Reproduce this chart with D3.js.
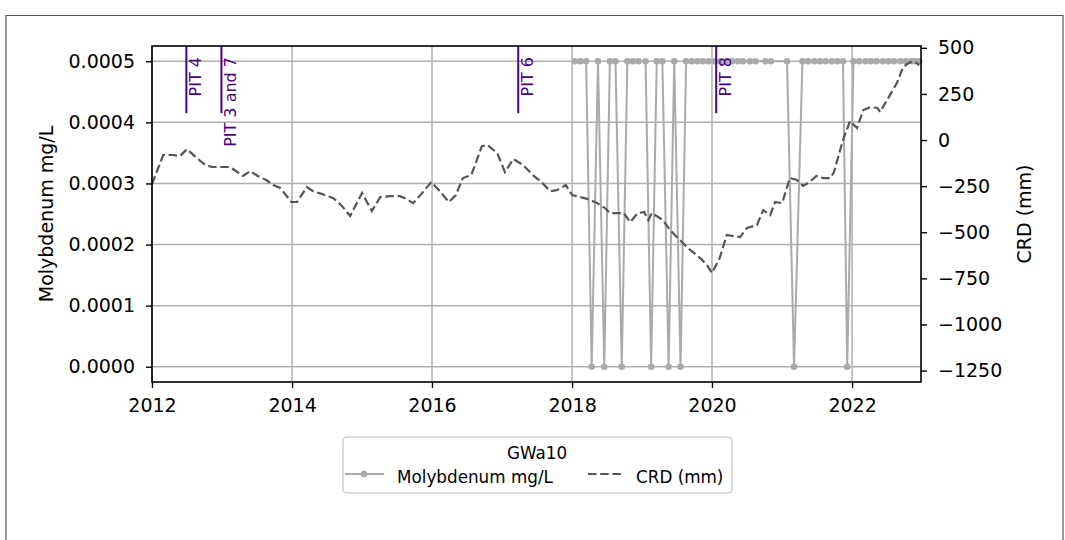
<!DOCTYPE html>
<html>
<head>
<meta charset="utf-8">
<script src="https://cdn.jsdelivr.net/npm/d3@7"></script>
<style>
  body { margin: 0; background: #fff; }
  text { font-family: "DejaVu Sans", sans-serif; }
</style>
</head>
<body>
<div id="chart"></div>
<script>
// Molybdenum samples (decimal year, mg/L)
var moYears = [2018.04, 2018.12, 2018.20, 2018.28, 2018.37, 2018.46, 2018.54, 2018.62, 2018.71, 2018.79,
  2018.87, 2018.95, 2019.05, 2019.13, 2019.21, 2019.29, 2019.38, 2019.46, 2019.55, 2019.63,
  2019.71, 2019.79, 2019.87, 2019.95, 2020.04, 2020.12, 2020.20, 2020.29, 2020.37, 2020.44,
  2020.54, 2020.62, 2020.76, 2020.84, 2021.07, 2021.17, 2021.29, 2021.37, 2021.46, 2021.54,
  2021.62, 2021.71, 2021.79, 2021.87, 2021.93, 2022.02, 2022.10, 2022.19, 2022.27, 2022.35,
  2022.44, 2022.52, 2022.60, 2022.69, 2022.77, 2022.85, 2022.90, 2022.96]
var moValues = [0.0005, 0.0005, 0.0005, 0, 0.0005, 0, 0.0005, 0.0005, 0, 0.0005,
  0.0005, 0.0005, 0.0005, 0, 0.0005, 0.0005, 0, 0.0005, 0, 0.0005,
  0.0005, 0.0005, 0.0005, 0.0005, 0.0005, 0.0005, 0.0005, 0.0005, 0.0005, 0.0005,
  0.0005, 0.0005, 0.0005, 0.0005, 0.0005, 0, 0.0005, 0.0005, 0.0005, 0.0005,
  0.0005, 0.0005, 0.0005, 0.0005, 0, 0.0005, 0.0005, 0.0005, 0.0005, 0.0005,
  0.0005, 0.0005, 0.0005, 0.0005, 0.0005, 0.0005, 0.0005, 0.0005]

// CRD (mm), decimal year
var crdYears = [2012.00, 2012.16, 2012.30, 2012.40, 2012.50, 2012.64, 2012.76, 2012.86, 2013.00, 2013.11,
  2013.30, 2013.40, 2013.51, 2013.63, 2013.73, 2013.83, 2013.99, 2014.07, 2014.21, 2014.30,
  2014.43, 2014.59, 2014.70, 2014.83, 2015.00, 2015.14, 2015.26, 2015.40, 2015.54, 2015.64,
  2015.73, 2015.86, 2015.99, 2016.11, 2016.24, 2016.34, 2016.44, 2016.56, 2016.64, 2016.71,
  2016.79, 2016.93, 2017.04, 2017.16, 2017.30, 2017.44, 2017.56, 2017.69, 2017.79, 2017.91,
  2018.00, 2018.11, 2018.23, 2018.36, 2018.47, 2018.54, 2018.66, 2018.74, 2018.83, 2018.94,
  2019.03, 2019.09, 2019.14, 2019.30, 2019.40, 2019.54, 2019.64, 2019.83, 2019.93, 2020.00,
  2020.11, 2020.21, 2020.40, 2020.50, 2020.64, 2020.73, 2020.83, 2020.90, 2021.00, 2021.11,
  2021.21, 2021.30, 2021.39, 2021.49, 2021.59, 2021.69, 2021.74, 2021.87, 2021.97, 2022.07,
  2022.16, 2022.26, 2022.36, 2022.40, 2022.50, 2022.64, 2022.73, 2022.83, 2022.90, 2022.96]
var crdValues = [-239, -81, -81, -87, -49, -98, -136, -146, -146, -146,
  -195, -168, -195, -217, -244, -260, -336, -336, -255, -277,
  -293, -315, -352, -412, -287, -385, -309, -304, -304, -320,
  -342, -287, -228, -277, -336, -298, -206, -190, -108, -33,
  -27, -70, -174, -103, -136, -190, -228, -277, -271, -244,
  -298, -309, -320, -342, -369, -396, -396, -396, -445, -396,
  -390, -434, -396, -434, -488, -542, -580, -640, -678, -721,
  -640, -515, -526, -477, -461, -380, -407, -336, -342, -206,
  -217, -249, -228, -195, -206, -206, -174, 0, 103, 65,
  163, 179, 174, 152, 217, 309, 396, 423, 423, 407]

// pit events
var pitNames = ['PIT 4', 'PIT 3 and 7', 'PIT 6', 'PIT 8']
var pitYears = [2012.49, 2012.99, 2017.23, 2020.06]

var xTicks = [2012, 2014, 2016, 2018, 2020, 2022]
var leftTicks = [0, 0.0001, 0.0002, 0.0003, 0.0004, 0.0005]
var rightTicks = [-1250, -1000, -750, -500, -250, 0, 250, 500]

function toDate(yr) {
  var y = Math.floor(yr)
  var start = Date.UTC(y, 0, 1)
  var end = Date.UTC(y + 1, 0, 1)
  return new Date(start + (yr - y) * (end - start))
}

var width = 1065
var height = 540
var margin = { top: 46, left: 152, right: 144, bottom: 158 }
var w = width - margin.left - margin.right
var h = height - margin.top - margin.bottom

var root = d3.select('#chart').append('svg')
  .attr('width', width)
  .attr('height', height)

// outer frame
root.append('path')
  .attr('d', 'M6,545 L6,15.5 L1063,15.5 L1063,545')
  .attr('fill', 'none')
  .attr('stroke', '#555')
  .attr('stroke-width', 1.2)

var svg = root.append('g')
  .attr('transform', 'translate(' + margin.left + ',' + margin.top + ')')

var x = d3.scaleUtc().domain([toDate(2012), toDate(2022.985)]).range([0, w])
var yLeft = d3.scaleLinear().domain([-0.000025, 0.000525]).range([h, 0])
var yRight = d3.scaleLinear().domain([-1312, 510]).range([h, 0])

// grid
svg.selectAll('.vgrid').data(xTicks).enter().append('line')
  .attr('x1', d => x(toDate(d))).attr('x2', d => x(toDate(d)))
  .attr('y1', 0).attr('y2', h)
  .attr('stroke', '#b0b0b0').attr('stroke-width', 1.5)
svg.selectAll('.hgrid').data(leftTicks).enter().append('line')
  .attr('x1', 0).attr('x2', w)
  .attr('y1', d => yLeft(d)).attr('y2', d => yLeft(d))
  .attr('stroke', '#b0b0b0').attr('stroke-width', 1.5)

// molybdenum
var mo = moYears.map((d, i) => ({ date: toDate(d), v: moValues[i] }))
var moLine = d3.line().x(d => x(d.date)).y(d => yLeft(d.v))
svg.append('path')
  .datum(mo)
  .attr('d', moLine)
  .attr('fill', 'none')
  .attr('stroke', '#aaaaaa')
  .attr('stroke-width', 2)
svg.selectAll('.mo-dot').data(mo).enter().append('circle')
  .attr('cx', d => x(d.date))
  .attr('cy', d => yLeft(d.v))
  .attr('r', 3.3)
  .attr('fill', '#aaaaaa')

// pit markers
pitYears.forEach((p, i) => {
  var px = x(toDate(p))
  svg.append('line')
    .attr('x1', px).attr('x2', px)
    .attr('y1', 0).attr('y2', h * 0.2)
    .attr('stroke', '#4b0082').attr('stroke-width', 2)
  svg.append('text')
    .attr('transform', 'translate(' + (px + 15) + ',' + 11 + ') rotate(-90)')
    .attr('text-anchor', 'end')
    .attr('fill', '#4b0082')
    .style('font-size', '16px')
    .text(pitNames[i])
})

// CRD
var crd = crdYears.map((d, i) => ({ date: toDate(d), v: crdValues[i] }))
var crdLine = d3.line().x(d => x(d.date)).y(d => yRight(d.v))
svg.append('path')
  .datum(crd)
  .attr('d', crdLine)
  .attr('fill', 'none')
  .attr('stroke', '#555555')
  .attr('stroke-width', 2.2)
  .attr('stroke-dasharray', '8.5,3.7')

// axes
var xAxis = svg.append('g')
  .attr('transform', 'translate(0,' + h + ')')
  .call(d3.axisBottom(x).tickValues(xTicks.map(toDate)).tickFormat(d3.utcFormat('%Y'))
    .tickSize(6).tickPadding(11).tickSizeOuter(0))
var lAxis = svg.append('g')
  .call(d3.axisLeft(yLeft).tickValues(leftTicks).tickFormat(d3.format('.4f'))
    .tickSize(6).tickPadding(11).tickSizeOuter(0))
var rAxis = svg.append('g')
  .attr('transform', 'translate(' + w + ',0)')
  .call(d3.axisRight(yRight).tickValues(rightTicks).tickFormat(d3.format('d'))
    .tickSize(6).tickPadding(11).tickSizeOuter(0))

;[xAxis, lAxis, rAxis].forEach(a => {
  a.selectAll('.domain').remove()
  a.selectAll('line').attr('stroke', '#000').attr('stroke-width', 1.4)
  a.selectAll('text').style('font-size', '19px').attr('fill', '#000')
    .style('font-family', '"DejaVu Sans", sans-serif')
})

// spines
svg.append('rect')
  .attr('width', w).attr('height', h)
  .attr('fill', 'none').attr('stroke', '#000').attr('stroke-width', 1.6)

// axis labels
svg.append('text')
  .attr('transform', 'translate(' + (53 - margin.left) + ',' + (h / 2) + ') rotate(-90)')
  .attr('text-anchor', 'middle')
  .style('font-size', '19px')
  .text('Molybdenum mg/L')
svg.append('text')
  .attr('transform', 'translate(' + (1031 - margin.left) + ',' + (h / 2) + ') rotate(-90)')
  .attr('text-anchor', 'middle')
  .style('font-size', '19px')
  .text('CRD (mm)')

// legend
var lg = root.append('g').attr('transform', 'translate(343,437)')
lg.append('rect')
  .attr('width', 389).attr('height', 56).attr('rx', 4)
  .attr('fill', '#fff').attr('stroke', '#d0d0d0').attr('stroke-width', 1.5)
lg.append('text')
  .attr('x', 194).attr('y', 22)
  .attr('text-anchor', 'middle')
  .style('font-size', '16.8px')
  .text('GWa10')
lg.append('line')
  .attr('x1', 2).attr('x2', 41).attr('y1', 37).attr('y2', 37)
  .attr('stroke', '#aaaaaa').attr('stroke-width', 2)
lg.append('circle')
  .attr('cx', 21).attr('cy', 37).attr('r', 3.3).attr('fill', '#aaaaaa')
lg.append('text')
  .attr('x', 54).attr('y', 46)
  .style('font-size', '16.8px')
  .text('Molybdenum mg/L')
lg.append('line')
  .attr('x1', 245).attr('x2', 280).attr('y1', 37).attr('y2', 37)
  .attr('stroke', '#555555').attr('stroke-width', 2.2)
  .attr('stroke-dasharray', '8.5,3.7')
lg.append('text')
  .attr('x', 293).attr('y', 46)
  .style('font-size', '16.8px')
  .text('CRD (mm)')
</script>
</body>
</html>
